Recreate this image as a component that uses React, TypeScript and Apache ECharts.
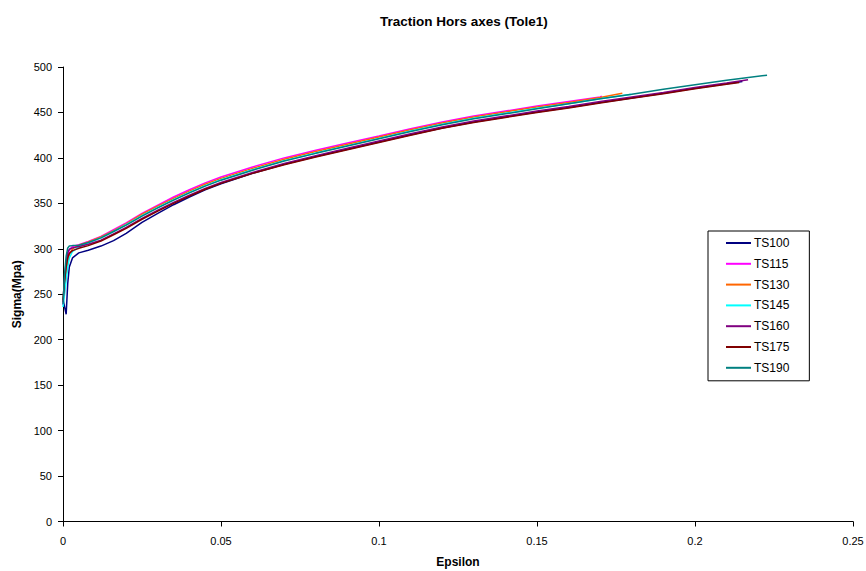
import React, { useEffect, useRef } from "react";
import * as echarts from "echarts";

const TITLE = "Traction Hors axes (Tole1)";
const X_NAME = "Epsilon";
const Y_NAME = "Sigma(Mpa)";

const SERIES_NAMES = ["TS100", "TS115", "TS130", "TS145", "TS160", "TS175", "TS190"];
const COLORS = ["#000080", "#FF00FF", "#FF6600", "#00FFFF", "#800080", "#800000", "#008080"];

// shared strain grid
const EPS = [0, 0.0005, 0.001, 0.0015, 0.002, 0.003, 0.005, 0.008, 0.012, 0.016, 0.02, 0.025, 0.03, 0.035, 0.04, 0.045, 0.05, 0.06, 0.07, 0.08, 0.09, 0.1, 0.11, 0.12, 0.13, 0.14, 0.15, 0.16, 0.17, 0.18, 0.19, 0.2, 0.21];

const TS100 = [245, 236, 228, 262, 280, 290, 295.5, 298.5, 303, 309, 317, 329, 339, 348.5, 357, 365, 371.5, 383, 393, 401.5, 409.5, 417.5, 425.5, 433, 439.5, 445, 450.5, 455.5, 461, 466, 471, 476.5, 481.5];
const TS115 = [238, 255, 275, 292, 299, 302.5, 304.5, 308, 313.5, 321, 328.5, 339, 348, 357, 365, 372.5, 379, 390, 400, 408.5, 416.5, 424, 432, 439.5, 446, 451.5, 457, 462, 467];
const TS130 = [242, 258, 272, 285, 294, 300, 304, 307.5, 313, 320, 327.5, 338, 347, 355.5, 363.5, 371, 377.5, 388.5, 398.5, 407, 415, 423, 431, 438.5, 445, 450.5, 456, 461, 466.5];
const TS145 = [236, 250, 266, 280, 290, 297, 302, 306.5, 312, 319, 326.5, 336.5, 345.5, 354, 362, 369.5, 376, 387, 397, 405.5, 413.5, 421.5, 429.5, 437, 443.5, 449, 454.5, 459.5, 465];
const TS160 = [241, 268, 286, 296, 299.5, 301, 302.5, 305, 309.5, 316.5, 323.5, 333.5, 342.5, 351, 359, 366.5, 373, 384, 394, 402.5, 410.5, 418.5, 426.5, 434, 440.5, 446, 451.5, 456.5, 462, 467, 472, 477.5, 482.5];
const TS175 = [244, 265, 280, 290, 295, 298, 300.5, 303.5, 308.5, 315.5, 322.5, 332.5, 341.5, 350, 358, 365.5, 372, 383, 392.5, 401, 409, 417, 425, 432.5, 439, 444.5, 450, 455, 460.5, 465.5, 470.5, 476, 481];
const TS190 = [239, 272, 292, 301, 303, 303.5, 304, 307, 312, 319, 326, 336, 345, 353.5, 361.5, 369, 375.5, 386.5, 396.5, 405, 413, 421, 429, 436.5, 443, 448.5, 454, 459.5, 465, 470, 475.5, 480.5, 485.5];

// final point of each test
const END_EPS = [0.215, 0.1705, 0.177, 0.18, 0.2168, 0.214, 0.2228];
const END_SIGMA = [484, 468, 471, 470, 486, 483, 491];

const SIGMAS = [TS100, TS115, TS130, TS145, TS160, TS175, TS190];

const X_TICKS = [0, 0.05, 0.1, 0.15, 0.2, 0.25];
const Y_TICKS = [0, 50, 100, 150, 200, 250, 300, 350, 400, 450, 500];

const FONT = "'Liberation Sans', Arial, sans-serif";

export default function App() {
  const ref = useRef<HTMLDivElement>(null);

  useEffect(() => {
    if (!ref.current) return;
    const chart = echarts.init(ref.current, undefined, { renderer: "svg" });

    const series = SERIES_NAMES.map((name, i) => {
      const pts: number[][] = SIGMAS[i].map((s, k) => [EPS[k], s]);
      pts.push([END_EPS[i], END_SIGMA[i]]);
      return {
        name,
        type: "line",
        data: pts,
        symbol: "none",
        showSymbol: false,
        smooth: false,
        lineStyle: { width: 1.5, color: COLORS[i] },
        itemStyle: { color: COLORS[i] },
      };
    });

    chart.setOption({
      animation: false,
      backgroundColor: "#ffffff",
      textStyle: { fontFamily: FONT },
      title: {
        text: TITLE,
        left: 375,
        top: 9,
        textStyle: { fontFamily: FONT, fontSize: 13.5, fontWeight: "bold", color: "#000" },
      },
      legend: {
        orient: "vertical",
        left: 708,
        top: 231,
        width: 103,
        data: SERIES_NAMES,
        icon: "rect",
        itemWidth: 25,
        itemHeight: 2,
        itemGap: 8.8,
        borderColor: "#000",
        borderWidth: 1,
        padding: [6, 20, 7, 18],
        textStyle: { fontFamily: FONT, fontSize: 12, color: "#000", padding: [0, 0, 0, -2] },
      },
      grid: {
        left: 63,
        top: 67,
        right: 13,
        bottom: 49.5,
        containLabel: false,
        outerBoundsMode: "none",
      },
      xAxis: {
        type: "value",
        min: X_TICKS[0],
        max: X_TICKS[X_TICKS.length - 1],
        interval: 0.05,
        name: X_NAME,
        nameLocation: "middle",
        nameGap: 34,
        nameTextStyle: { fontFamily: FONT, fontSize: 12, fontWeight: "bold", color: "#000" },
        axisLine: { show: true, onZero: false, lineStyle: { color: "#000", width: 1 } },
        axisTick: { show: true, inside: false, length: 5, lineStyle: { color: "#000" } },
        axisLabel: { fontFamily: FONT, fontSize: 11, color: "#000", margin: 14 },
        splitLine: { show: false },
      },
      yAxis: {
        type: "value",
        min: Y_TICKS[0],
        max: Y_TICKS[Y_TICKS.length - 1],
        interval: 50,
        name: Y_NAME,
        nameLocation: "middle",
        nameRotate: 90,
        nameGap: 40,
        nameTextStyle: { fontFamily: FONT, fontSize: 12, fontWeight: "bold", color: "#000" },
        axisLine: { show: true, lineStyle: { color: "#000", width: 1 } },
        axisTick: { show: true, inside: false, length: 5, lineStyle: { color: "#000" } },
        axisLabel: { fontFamily: FONT, fontSize: 11, color: "#000", margin: 11 },
        splitLine: { show: false },
      },
      series,
    });

    return () => chart.dispose();
  }, []);

  return (
    <div
      ref={ref}
      style={{ position: "absolute", left: 0, top: 0, width: 866, height: 571, background: "#fff" }}
    />
  );
}
